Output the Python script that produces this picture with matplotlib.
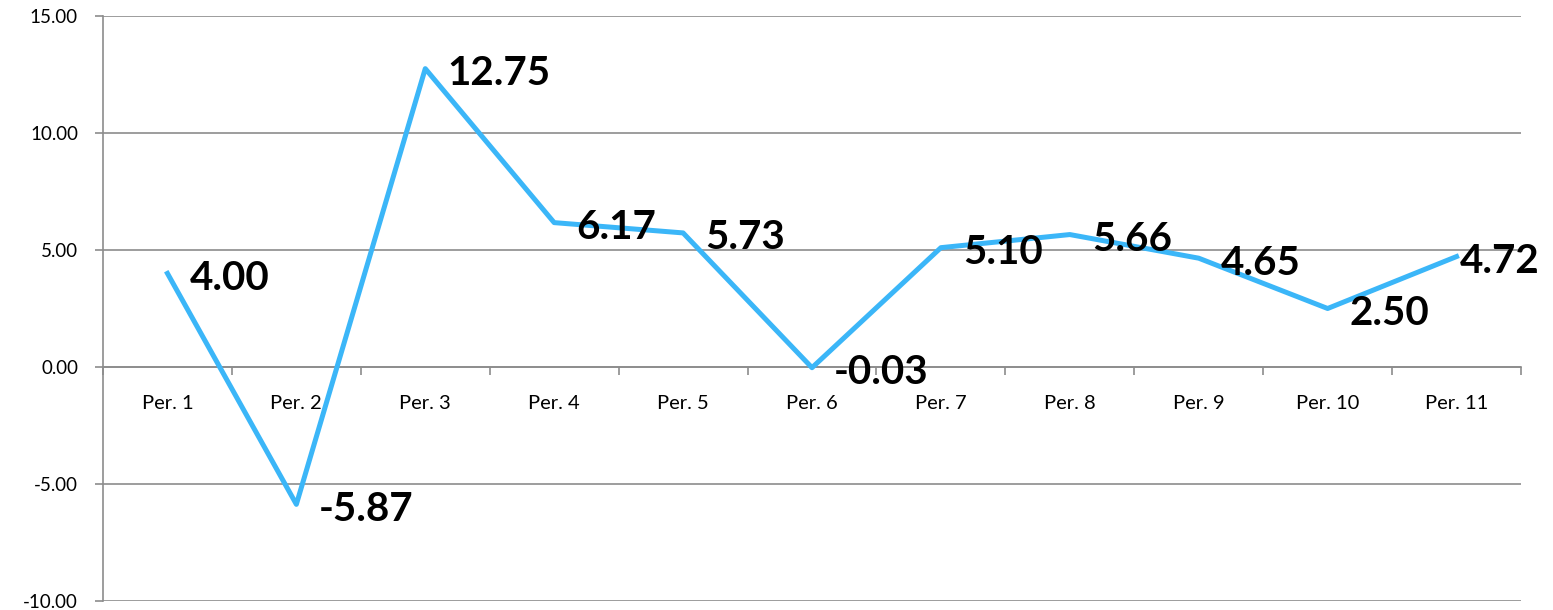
import numpy as np
import matplotlib.pyplot as plt
from matplotlib.ticker import FixedLocator

plt.rcParams['font.family'] = ['Lato', 'DejaVu Sans']

# Period values
periods = ['Per. 1', 'Per. 2', 'Per. 3', 'Per. 4', 'Per. 5', 'Per. 6',
           'Per. 7', 'Per. 8', 'Per. 9', 'Per. 10', 'Per. 11']
values = [4.00, -5.87, 12.75, 6.17, 5.73, -0.03, 5.10, 5.66, 4.65, 2.50, 4.72]
y_ticks = [-10, -5, 0, 5, 10, 15]

x = np.arange(len(periods))

fig = plt.figure(figsize=(15.53, 6.10), dpi=100)
ax = fig.add_axes([103 / 1553, 1 - 601 / 610, (1521 - 103) / 1553, (601 - 16) / 610])

grid_col = '#8c8c8c'
ax.plot(x, values, color='#3bb6f8', linewidth=3.6, zorder=3)

# Labels to the right of each point (the last one is nudged in to fit)
for i, (xi, v) in enumerate(zip(x, values)):
    dx = 3 if i == len(values) - 1 else 22
    ax.annotate(f'{v:.2f}', (xi, v), xytext=(dx, -5), textcoords='offset pixels',
                ha='left', va='center', fontsize=29, fontweight='bold', color='black',
                zorder=4)

ax.set_xlim(-0.5, len(periods) - 0.5)
ax.set_ylim(-10, 15)
ax.set_yticks(y_ticks)
ax.set_yticklabels([f'{t:.2f}' for t in y_ticks])
ax.yaxis.grid(True, color=grid_col, linewidth=1.2)
ax.set_axisbelow(True)

ax.set_xticks(x)
ax.set_xticklabels(periods)
ax.xaxis.set_minor_locator(FixedLocator(np.arange(-0.5, len(periods), 1)))
ax.tick_params(axis='x', which='major', length=0, pad=20, labelsize=14.5)
ax.tick_params(axis='x', which='minor', length=6, width=1.2, color=grid_col, direction='out')
ax.tick_params(axis='y', length=6, width=1.2, color=grid_col, pad=12, labelsize=13.5)

ax.spines['top'].set_visible(False)
ax.spines['right'].set_visible(False)
ax.spines['bottom'].set_position(('data', 0))
for s in ['left', 'bottom']:
    ax.spines[s].set_color(grid_col)
    ax.spines[s].set_linewidth(1.2)

fig.savefig('out.png', dpi=100)
